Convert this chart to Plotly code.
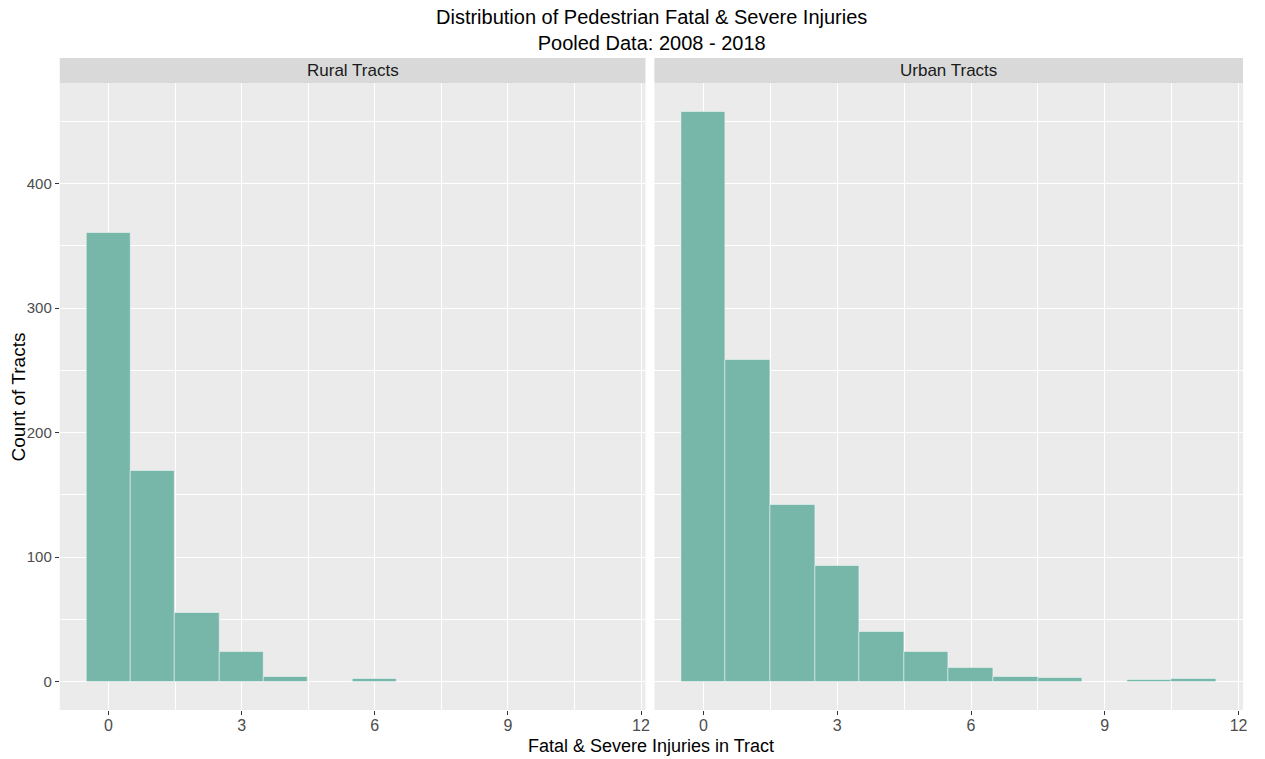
import plotly.graph_objects as go

# Histogram counts per number of fatal & severe pedestrian injuries (bin width 1)
injury_bins = [0, 1, 2, 3, 4, 5, 6, 7, 8, 9, 10, 11]
rural_counts = [360, 169, 55, 24, 4, 0, 2, 0, 0, 0, 0, 0]
urban_counts = [458, 258, 142, 93, 40, 24, 11, 4, 3, 0, 1, 2]

facet_labels = ["Rural Tracts", "Urban Tracts"]
x_ticks = [0, 3, 6, 9, 12]
y_ticks = [0, 100, 200, 300, 400]

W, H = 1265, 759
FILL = "#77B7AA"
EDGE = "rgba(255,255,255,0.45)"
PANEL_BG = "#EBEBEB"
STRIP_BG = "#D9D9D9"
FONT = "Liberation Sans, Arial, sans-serif"

# panel positions in pixels
left_panel = (60, 648)
right_panel = (657, 1248)
plot_top, plot_bottom = 83, 710
strip_top = 58


def px_x(p):
    return p / W


def px_y(p):
    return 1 - p / H


fig = go.Figure()

for counts, xa in [(rural_counts, "x"), (urban_counts, "x2")]:
    fig.add_trace(go.Bar(
        x=injury_bins, y=counts, width=1,
        marker=dict(color=FILL, line=dict(color=EDGE, width=1)),
        xaxis=xa, yaxis="y" if xa == "x" else "y2",
        showlegend=False, hoverinfo="x+y",
    ))

x_range = [-1.1, 12.1]
y_range = [-22.9, 480.9]

axis_common = dict(
    range=x_range, tickvals=x_ticks, ticktext=[str(v) for v in x_ticks],
    showgrid=True, gridcolor="white", gridwidth=1.1,
    minor=dict(tickvals=[1.5, 4.5, 7.5, 10.5], showgrid=True,
               gridcolor="white", gridwidth=0.5, ticks=""),
    ticks="outside", ticklen=4, tickcolor="#333333", tickwidth=1,
    ticklabelstandoff=-3,
    tickfont=dict(family=FONT, size=16, color="#4D4D4D"),
    zeroline=False, showline=False, fixedrange=True,
)
yaxis_common = dict(
    range=y_range, tickvals=y_ticks,
    showgrid=True, gridcolor="white", gridwidth=1.1,
    minor=dict(tickvals=[50, 150, 250, 350, 450], showgrid=True,
               gridcolor="white", gridwidth=0.5, ticks=""),
    zeroline=False, showline=False, fixedrange=True,
    domain=[px_y(plot_bottom), px_y(plot_top)],
)

fig.update_layout(
    width=W, height=H,
    margin=dict(l=0, r=0, t=0, b=0),
    paper_bgcolor="white",
    plot_bgcolor=PANEL_BG,
    bargap=0,
    xaxis=dict(axis_common, domain=[px_x(left_panel[0]), px_x(left_panel[1])], anchor="y"),
    xaxis2=dict(axis_common, domain=[px_x(right_panel[0]), px_x(right_panel[1])], anchor="y2"),
    yaxis=dict(yaxis_common, anchor="x",
               ticks="outside", ticklen=4, tickcolor="#333333", tickwidth=1,
               tickfont=dict(family=FONT, size=15, color="#4D4D4D")),
    yaxis2=dict(yaxis_common, anchor="x2", showticklabels=False, ticks=""),
    font=dict(family=FONT),
)

# facet strips with their labels
shapes = []
annotations = []
for (x0, x1), label in zip([left_panel, right_panel], facet_labels):
    shapes.append(dict(
        type="rect", xref="paper", yref="paper",
        x0=px_x(x0), x1=px_x(x1), y0=px_y(plot_top), y1=px_y(strip_top),
        fillcolor=STRIP_BG, line=dict(width=0), layer="below",
    ))
    annotations.append(dict(
        text=label, xref="paper", yref="paper",
        x=px_x((x0 + x1) / 2), y=px_y((plot_top + strip_top) / 2),
        xanchor="center", yanchor="middle", showarrow=False,
        font=dict(family=FONT, size=17, color="#1A1A1A"),
    ))

# title
annotations.append(dict(
    text="Distribution of Pedestrian Fatal & Severe Injuries<br>Pooled Data: 2008 - 2018",
    xref="paper", yref="paper", x=px_x(654), y=px_y(30),
    xanchor="center", yanchor="middle", showarrow=False,
    font=dict(family=FONT, size=20, color="black"),
))
# axis titles
annotations.append(dict(
    text="Fatal & Severe Injuries in Tract", xref="paper", yref="paper",
    x=px_x(654), y=px_y(746), xanchor="center", yanchor="middle",
    showarrow=False, font=dict(family=FONT, size=18, color="black"),
))
annotations.append(dict(
    text="Count of Tracts", xref="paper", yref="paper",
    x=px_x(19), y=px_y((plot_top + plot_bottom) / 2), xanchor="center", yanchor="middle",
    textangle=-90, showarrow=False, font=dict(family=FONT, size=19, color="black"),
))

fig.update_layout(shapes=shapes, annotations=annotations)

fig.write_html("out.html")
